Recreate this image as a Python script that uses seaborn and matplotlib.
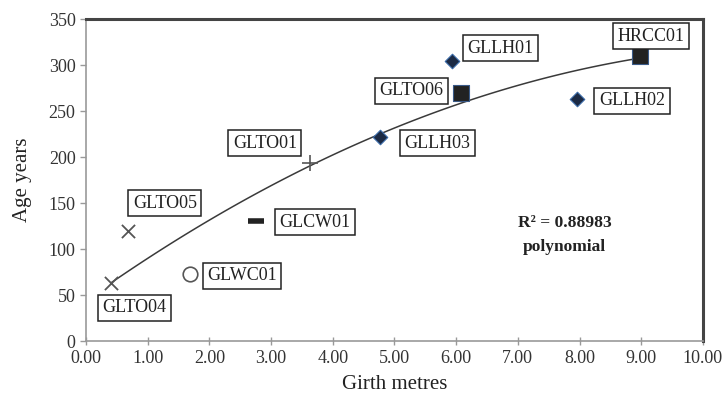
import numpy as np
import pandas as pd
import matplotlib
matplotlib.use("Agg")
import matplotlib.pyplot as plt
import seaborn as sns

names = ["GLTO04", "GLTO05", "GLWC01", "GLCW01", "GLTO01",
         "GLLH03", "GLLH01", "GLTO06", "GLLH02", "HRCC01"]
girth = [0.40, 0.68, 1.69, 2.75, 3.63, 4.76, 5.93, 6.08, 7.96, 8.98]
age = [63, 120, 73, 130, 193, 222, 304, 270, 263, 310]
kinds = ["cross", "cross", "circle", "dash", "plus",
         "diamond", "diamond", "square", "diamond", "square"]

# label box positions (data coords)
label_x = [0.79, 1.28, 2.53, 3.71, 2.90, 5.70, 6.72, 5.28, 8.85, 9.16]
label_y = [36, 150, 71, 129, 215, 215, 318, 272, 261, 331]

x_ticks = np.arange(0, 10.01, 1.0)
y_ticks = np.arange(0, 351, 50)

df = pd.DataFrame({"name": names, "girth": girth, "age": age, "kind": kinds})

sns.set_theme(style="white")
plt.rcParams["font.family"] = ["Liberation Serif", "DejaVu Serif"]

fig = plt.figure(figsize=(7.25, 4.0), dpi=100)
ax = fig.add_axes([0.1186, 0.1475, 0.851, 0.805])

# polynomial trend line
sns.regplot(data=df, x="girth", y="age", order=2, ci=None, scatter=False,
            line_kws={"color": "#3a3a3a", "lw": 1.1}, ax=ax)

styles = {
    "cross": dict(marker="x", s=90, color="#555555", linewidths=1.3),
    "plus": dict(marker="+", s=140, color="#555555", linewidths=1.2),
    "dash": dict(marker="_", s=120, color="#222222", linewidths=4),
    "circle": dict(marker="o", s=110, facecolor="white", edgecolor="#555555", linewidth=1.2),
    "diamond": dict(marker="D", s=55, color="#1c2a44", edgecolor="#3a6aa8", linewidth=0.8),
    "square": dict(marker="s", s=140, color="#222222", edgecolor="#3a5a88", linewidth=0.8),
}
for k, kw in styles.items():
    sub = df[df["kind"] == k]
    sns.scatterplot(data=sub, x="girth", y="age", ax=ax, legend=False, zorder=3, **kw)

for n, lx, ly in zip(names, label_x, label_y):
    ax.text(lx, ly, n, ha="center", va="center", fontsize=13, zorder=4,
            color="#222222",
            bbox=dict(boxstyle="square,pad=0.25", facecolor="white",
                      edgecolor="#222222", linewidth=1.1))

ax.text(7.76, 128, "R² = 0.88983", ha="center", va="center",
        fontsize=12.5, fontweight="bold", color="#222222")
ax.text(7.76, 102, "polynomial", ha="center", va="center",
        fontsize=12.5, fontweight="bold", color="#222222")

ax.set_xlim(0, 10)
ax.set_ylim(0, 350)
ax.set_xticks(x_ticks)
ax.set_xticklabels([f"{v:.2f}" for v in x_ticks])
ax.set_yticks(y_ticks)
ax.tick_params(axis="both", labelsize=13, labelcolor="#333333",
               length=4, width=1, color="#999999", bottom=True, left=True)
ax.tick_params(axis="x", direction="inout", length=6)
ax.tick_params(axis="y", direction="out")
ax.set_xlabel("Girth metres", fontsize=15, color="#222222", labelpad=6)
ax.set_ylabel("Age years", fontsize=15, color="#222222", labelpad=12)

for side in ["left", "bottom"]:
    ax.spines[side].set_color("#999999")
    ax.spines[side].set_linewidth(1.2)
for side in ["top", "right"]:
    ax.spines[side].set_color("#444444")
    ax.spines[side].set_linewidth(2.2)

fig.savefig("out.png", dpi=100)
